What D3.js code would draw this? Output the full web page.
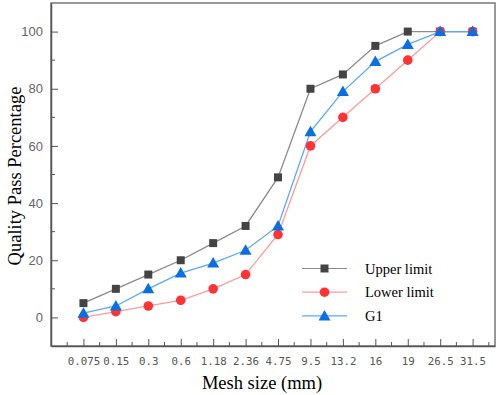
<!DOCTYPE html>
<html lang="en">
  <head>
    <meta charset="utf-8">
    <title>Grading curve</title>
    <script type="text/javascript" src="https://cdn.jsdelivr.net/npm/d3@7"></script>
    <style>
    body { margin: 0; background: #fff; }
    .axis text { font-family: "DejaVu Sans Mono", monospace; font-size: 10.8px; fill: #555; }
    .axis path, .axis line { stroke: #555; }
    .y.axis text { font-family: "Liberation Sans", Arial, sans-serif; font-size: 13px; fill: #666; }
    .title { font-family: "Liberation Serif", "Times New Roman", serif; font-size: 18.5px; fill: #000; }
    .legend text { font-family: "Liberation Serif", "Times New Roman", serif; font-size: 14.5px; fill: #000; }
    </style>
  </head>
  <body>
    <div id="chart"></div>
    <script type="text/javascript">

      // sieve sizes (categorical x axis)
      var meshSizes = ["0.075", "0.15", "0.3", "0.6", "1.18", "2.36", "4.75", "9.5", "13.2", "16", "19", "26.5", "31.5"];

      var upperLimit = [5, 10, 15, 20, 26, 32, 49, 80, 85, 95, 100, 100, 100];
      var lowerLimit = [0, 2, 4, 6, 10, 15, 29, 60, 70, 80, 90, 100, 100];
      var g1 = [1.5, 4, 10, 15.5, 19, 23.5, 32, 65, 79, 89.5, 95.5, 100, 100];

      var yTicks = [0, 20, 40, 60, 80, 100];

      var series = [
        {name: "Upper limit", values: upperLimit, line: "#8a8a8a", mark: "#444", shape: "square"},
        {name: "Lower limit", values: lowerLimit, line: "#ff9a9a", mark: "#ff3333", shape: "circle"},
        {name: "G1", values: g1, line: "#5aa8ff", mark: "#0a6fe0", shape: "triangle"}
      ];

      var W = 498, H = 395;
      var plotLeft = 51, plotRight = 495, plotTop = 3, plotBottom = 346;

      var svg = d3.select("#chart").append("svg")
          .attr("width", W)
          .attr("height", H);

      var x = d3.scaleLinear()
          .domain([-1, 12.69])
          .range([plotLeft, plotRight]);

      var y = d3.scaleLinear()
          .domain([-10, 110])
          .range([plotBottom, plotTop]);

      // frame (top + right)
      svg.append("rect")
          .attr("x", plotLeft).attr("y", plotTop)
          .attr("width", plotRight - plotLeft).attr("height", plotBottom - plotTop)
          .attr("fill", "none")
          .attr("stroke", "#777")
          .attr("stroke-width", 1.5);

      // x axis, ticks pointing inward
      var xAxis = d3.axisBottom(x)
          .tickValues(d3.range(0, meshSizes.length))
          .tickFormat(function(i) { return meshSizes[i]; })
          .tickSizeInner(-7)
          .tickSizeOuter(0)
          .tickPadding(11);

      var gx = svg.append("g")
          .attr("class", "x axis")
          .attr("transform", "translate(0," + plotBottom + ")")
          .call(xAxis);
      gx.select(".domain").attr("stroke-width", 1.5);

      // x minor ticks
      svg.append("g")
          .attr("class", "axis")
          .selectAll("line")
          .data(d3.range(-0.5, meshSizes.length, 1))
          .enter().append("line")
            .attr("x1", function(d) { return x(d); })
            .attr("x2", function(d) { return x(d); })
            .attr("y1", plotBottom)
            .attr("y2", plotBottom - 4);

      // y axis
      var yAxis = d3.axisLeft(y)
          .tickValues(yTicks)
          .tickSizeInner(-7)
          .tickSizeOuter(0)
          .tickPadding(8);

      var gy = svg.append("g")
          .attr("class", "y axis")
          .attr("transform", "translate(" + plotLeft + ",0)")
          .call(yAxis);
      gy.select(".domain").attr("stroke-width", 1.5);

      svg.append("g")
          .attr("class", "axis")
          .selectAll("line")
          .data([10, 30, 50, 70, 90])
          .enter().append("line")
            .attr("x1", plotLeft)
            .attr("x2", plotLeft + 4)
            .attr("y1", function(d) { return y(d); })
            .attr("y2", function(d) { return y(d); });

      // axis titles
      svg.append("text")
          .attr("class", "title")
          .attr("text-anchor", "middle")
          .attr("x", 262)
          .attr("y", 389)
          .text("Mesh size (mm)");

      svg.append("text")
          .attr("class", "title")
          .attr("text-anchor", "middle")
          .attr("transform", "translate(21,176) rotate(-90)")
          .text("Quality Pass Percentage");

      var line = d3.line()
          .x(function(d, i) { return x(i); })
          .y(function(d) { return y(d); });

      function drawMarker(g, shape, color) {
        if (shape == "square") {
          g.append("path").attr("d", d3.symbol(d3.symbolSquare, 64)()).attr("fill", color);
        } else if (shape == "circle") {
          g.append("circle").attr("r", 4.8).attr("fill", color);
        } else {
          g.append("path").attr("d", "M0,-6L6,4.5L-6,4.5Z").attr("fill", color);
        }
      }

      series.forEach(function(s) {
        svg.append("path")
            .datum(s.values)
            .attr("d", line)
            .attr("fill", "none")
            .attr("stroke", s.line)
            .attr("stroke-width", 1.3);
      });

      series.forEach(function(s) {
        svg.append("g")
          .selectAll("g")
          .data(s.values)
          .enter().append("g")
            .attr("transform", function(d, i) { return "translate(" + x(i) + "," + y(d) + ")"; })
            .each(function() { drawMarker(d3.select(this), s.shape, s.mark); });
      });

      // legend
      var legend = svg.append("g")
          .attr("class", "legend")
          .selectAll("g")
          .data(series)
          .enter().append("g")
            .attr("transform", function(d, i) { return "translate(302," + (268.5 + i * 23.7) + ")"; });

      legend.append("line")
          .attr("x1", 0).attr("x2", 45)
          .attr("stroke", function(d) { return d.line; })
          .attr("stroke-width", 1.2);

      legend.append("g")
          .attr("transform", "translate(22.5,0)")
          .each(function(d) { drawMarker(d3.select(this), d.shape, d.mark); });

      legend.append("text")
          .attr("x", 63)
          .attr("y", 5)
          .text(function(d) { return d.name; });

    </script>
  </body>
</html>
